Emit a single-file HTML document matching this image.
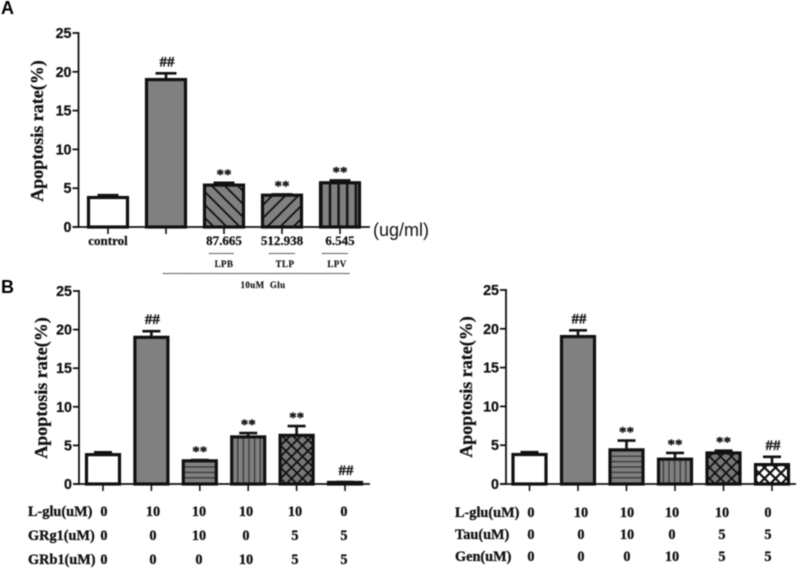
<!DOCTYPE html>
<html lang="en">
<head>
<meta charset="utf-8">
<title>Apoptosis rate charts</title>
<style>
html,body{margin:0;padding:0;background:#fff;width:798px;height:571px;overflow:hidden}
svg{display:block;filter:blur(0.55px)}
text{fill:#111}
.tick{font:bold 14.3px "Liberation Sans",sans-serif;stroke:#111;stroke-width:.25px}
.ytitle{font:bold 18px "Liberation Serif",serif;stroke:#111;stroke-width:.25px}
.lab{font:bold 13px "Liberation Serif",serif;stroke:#111;stroke-width:.25px}
.tbl{font:bold 14.3px "Liberation Serif",serif;stroke:#111;stroke-width:.3px}
.small{font:bold 9px "Liberation Serif",serif;letter-spacing:.4px;stroke:#222;stroke-width:.15px}
.ann{font:bold 15px "Liberation Serif",serif;stroke:#111;stroke-width:.35px}
.panel{font:bold 18px "Liberation Sans",sans-serif;fill:#000}
</style>
</head>
<body>
<svg id="fig" xmlns="http://www.w3.org/2000/svg" width="798" height="571" viewBox="0 0 798 571">
<defs>
<pattern id="diagDown" patternUnits="userSpaceOnUse" width="13" height="13"><rect width="13" height="13" fill="#808080"/><path d="M-3,-3L16,16M-3,10L3,16M10,-3L16,3" stroke="#111" stroke-width="1.8"/></pattern>
<pattern id="diagUp" patternUnits="userSpaceOnUse" width="13" height="13"><rect width="13" height="13" fill="#808080"/><path d="M-3,16L16,-3M-3,3L3,-3M10,16L16,10" stroke="#111" stroke-width="1.8"/></pattern>
<pattern id="vertWide" patternUnits="userSpaceOnUse" width="8.6" height="8"><rect width="8.6" height="8" fill="#808080"/><rect x="2" width="2.4" height="8" fill="#111"/></pattern>
<pattern id="horiz" patternUnits="userSpaceOnUse" width="6" height="5.4"><rect width="6" height="5.4" fill="#808080"/><rect y="2" width="6" height="1.2" fill="#333"/></pattern>
<pattern id="vert" patternUnits="userSpaceOnUse" width="5.6" height="6"><rect width="5.6" height="6" fill="#808080"/><rect x="2" width="1.2" height="6" fill="#333"/></pattern>
<pattern id="cross" patternUnits="userSpaceOnUse" width="11" height="11"><rect width="11" height="11" fill="#777"/><path d="M-2,-2L13,13M-2,13L13,-2" stroke="#111" stroke-width="1.8"/></pattern>
<pattern id="crossWhite" patternUnits="userSpaceOnUse" width="11" height="11"><rect width="11" height="11" fill="#fff"/><path d="M-2,-2L13,13M-2,13L13,-2" stroke="#111" stroke-width="2.2"/></pattern>
</defs>
<text class="panel" x="1" y="14">A</text>
<text class="panel" x="1" y="293">B</text>
<g id="root"></g>
</svg>
<script>
const yTickLabels = [0, 5, 10, 15, 20, 25];

const categoriesA = ["control", "glu", "LPB", "TLP", "LPV"];
const valuesA = [3.8, 19.0, 5.4, 4.1, 5.7];
const errorsA = [0.3, 0.8, 0.3, 0.1, 0.3];
const marksA = ["", "##", "**", "**", "**"];

const categoriesB = ["c1", "c2", "c3", "c4", "c5", "c6"];
const valuesB = [3.8, 19.0, 3.0, 6.1, 6.3, 0.2];
const errorsB = [0.3, 0.8, 0.1, 0.5, 1.2, 0.05];
const marksB = ["", "##", "**", "**", "**", "##"];

const categoriesC = ["c1", "c2", "c3", "c4", "c5", "c6"];
const valuesC = [3.8, 19.0, 4.4, 3.2, 4.0, 2.5];
const errorsC = [0.3, 0.8, 1.2, 0.8, 0.3, 1.0];
const marksC = ["", "##", "**", "**", "**", "##"];

const rowNamesB = ["L-glu(uM)", "GRg1(uM)", "GRb1(uM)"];
const rowValuesB = [["0", "10", "10", "10", "10", "0"], ["0", "0", "10", "0", "5", "5"], ["0", "0", "0", "10", "5", "5"]];
const rowNamesC = ["L-glu(uM)", "Tau(uM)", "Gen(uM)"];
const rowValuesC = [["0", "10", "10", "10", "10", "0"], ["0", "0", "10", "0", "5", "5"], ["0", "0", "0", "10", "5", "5"]];

const doseLabelsA = ["control", "87.665", "512.938", "6.545"];
const drugLabelsA = ["LPB", "TLP", "LPV"];

const NS = "http://www.w3.org/2000/svg";
const root = document.getElementById("root");

function mk(tag, attrs, parent) {
  const el = document.createElementNS(NS, tag);
  for (const k in attrs) el.setAttribute(k, attrs[k]);
  (parent || root).appendChild(el);
  return el;
}
function label(cls, x, y, str, anchor, name) {
  const t = mk("text", { class: cls, x: x, y: y, "text-anchor": anchor || "middle" });
  t.textContent = str;
  
  
  return t;
}
function line(x1, y1, x2, y2, w, name, parent) {
  const l = mk("line", { x1: x1, y1: y1, x2: x2, y2: y2, stroke: "#111", "stroke-width": w }, parent);
  
  
  return l;
}

function drawChart(id, geo, categories, values, errors, marks, fills) {
  const g = mk("g", {});
  
  
  const yScale = v => geo.y0 + (geo.y25 - geo.y0) * v / 25;
  const xScale = i => geo.first + geo.step * i;

  categories.forEach((c, i) => {
    const cx = xScale(i), top = yScale(values[i]), errTop = yScale(values[i] + errors[i]);
    line(cx, top, cx, errTop, 2.6, 'error-stem-' + id + '-' + i, g);
    line(cx - geo.cap / 2, errTop, cx + geo.cap / 2, errTop, 2.6, 'error-cap-' + id + '-' + i, g);
    const r = mk("rect", { x: cx - geo.bar / 2, y: top, width: geo.bar, height: geo.y0 - top, fill: fills[i], stroke: "#111", "stroke-width": 3.2 }, g);
    
    
    if (marks[i]) {
      const t = label("ann", cx + (marks[i] === "##" ? 1 : 0), errTop - (marks[i] === "##" ? 7 : 4), marks[i], "middle", 'significance-' + id + '-' + i);
      g.appendChild(t);
    }
    line(cx, geo.y0, cx, geo.y0 + 7, 1.6, 'x-tick-' + id + '-' + i, g);
  });

  line(geo.ax, geo.y25 - 1, geo.ax, geo.y0 + 1, 1.8, 'y-axis-' + id, g);
  line(geo.ax - 6, geo.y0, geo.xEnd, geo.y0, 1.8, 'x-axis-' + id, g);
  yTickLabels.forEach(v => {
    line(geo.ax - 6, yScale(v), geo.ax, yScale(v), 1.8, 'y-tick-' + id + '-' + v, g);
    g.appendChild(label("tick", geo.ax - 7, yScale(v) + 5, String(v), "end", 'y-tick-label-' + id + '-' + v));
  });
  const title = label(geo.titleClass, 0, 0, "Apoptosis rate(%)", "middle", 'y-axis-title-' + id);
  title.setAttribute("transform", "translate(" + geo.titleX + "," + geo.titleY + ") rotate(-90)");
  g.appendChild(title);
  return xScale;
}

/* Panel A */
const xA = drawChart("a",
  { ax: 78.5, y0: 227, y25: 33, first: 108, step: 58, bar: 39, cap: 21, xEnd: 370, titleX: 43, titleY: 131, titleClass: "ytitle" },
  categoriesA, valuesA, errorsA, marksA,
  ["#fff", "#808080", "url(#diagDown)", "url(#diagUp)", "url(#vertWide)"]);

label("lab", 108, 245, doseLabelsA[0], "middle", "x-label-control");
label("lab", 224, 245, doseLabelsA[1], "middle", "x-label-lpb-dose");
label("lab", 282, 245, doseLabelsA[2], "middle", "x-label-tlp-dose");
label("lab", 340, 245, doseLabelsA[3], "middle", "x-label-lpv-dose");
label("small", 224, 267, drugLabelsA[0], "middle", "drug-label-lpb");
label("small", 285, 267, drugLabelsA[1], "middle", "drug-label-tlp");
label("small", 337, 267, drugLabelsA[2], "middle", "drug-label-lpv");
label("small", 263, 288, "10uM\u00A0\u00A0Glu", "middle", "treatment-label");
label("unit", 373, 236, "(ug/ml)", "start", "unit-label").setAttribute("style", 'font:18px "Liberation Sans",sans-serif');
[[209, 234, "lpb"], [269, 295, "tlp"], [322, 348, "lpv"]].forEach(s => {
  const l = mk("line", { x1: s[0], y1: 253.5, x2: s[1], y2: 253.5, stroke: "#222", "stroke-width": 1, "stroke-dasharray": "1.5 0.6" });
  
  
});
const bracket = mk("line", { x1: 163, y1: 273.5, x2: 350, y2: 273.5, stroke: "#222", "stroke-width": 1, "stroke-dasharray": "1.5 0.6" });



/* Panel B left */
drawChart("b",
  { ax: 79, y0: 484, y25: 291, first: 103, step: 48.4, bar: 33, cap: 18, xEnd: 370, titleX: 47, titleY: 388, titleClass: "ytitle" },
  categoriesB, valuesB, errorsB, marksB,
  ["#fff", "#808080", "url(#horiz)", "url(#vert)", "url(#cross)", "#808080"]);

/* Panel B right */
drawChart("c",
  { ax: 506, y0: 484, y25: 290, first: 529.5, step: 48.5, bar: 33, cap: 18, xEnd: 796, titleX: 472, titleY: 387, titleClass: "ytitle" },
  categoriesC, valuesC, errorsC, marksC,
  ["#fff", "#808080", "url(#horiz)", "url(#vert)", "url(#cross)", "url(#crossWhite)"]);

function drawTable(id, names, rows, nameX, colX, rowY) {
  names.forEach((n, r) => {
    label("tbl", nameX, rowY[r], n, "start", 'row-name-' + id + '-' + r);
    rows[r].forEach((v, c) => {
      label("tbl", colX[c], rowY[r], v, "middle", 'row-value-' + id + '-' + r + '-' + c);
    });
  });
}
drawTable("b", rowNamesB, rowValuesB, 28, [104, 153, 199, 246, 295, 344], [516, 540, 564]);
drawTable("c", rowNamesC, rowValuesC, 455, [531, 581, 627, 672, 722, 768], [517, 539, 561]);
</script>
</body>
</html>
